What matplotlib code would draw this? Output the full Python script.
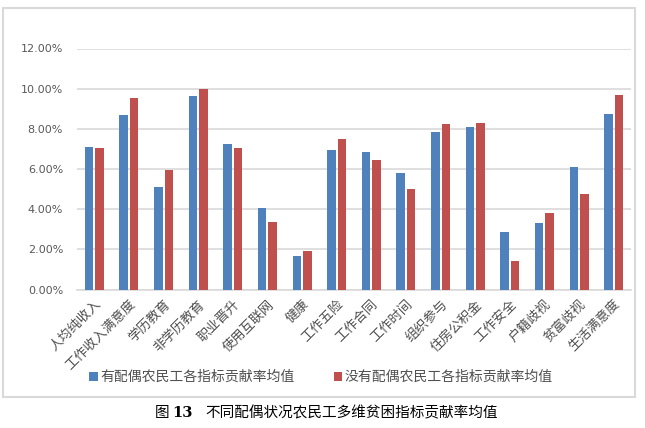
import numpy as np
import matplotlib
matplotlib.use('Agg')
import matplotlib.pyplot as plt
from matplotlib.patches import Rectangle
from matplotlib.ticker import FuncFormatter

plt.rcParams['font.family'] = ['Noto Sans CJK SC', 'DejaVu Sans']

categories = ['人均纯收入', '工作收入满意度', '学历教育', '非学历教育', '职业晋升', '使用互联网',
              '健康', '工作五险', '工作合同', '工作时间', '组织参与', '住房公积金',
              '工作安全', '户籍歧视', '贫富歧视', '生活满意度']
married = [7.10, 8.67, 5.08, 9.64, 7.25, 4.07, 1.67, 6.97, 6.85, 5.82, 7.84, 8.08,
           2.87, 3.32, 6.11, 8.72]
unmarried = [7.05, 9.53, 5.93, 9.98, 7.05, 3.38, 1.93, 7.51, 6.46, 5.02, 8.23, 8.28,
             1.42, 3.82, 4.76, 9.69]
series_names = ['有配偶农民工各指标贡献率均值', '没有配偶农民工各指标贡献率均值']

blue = '#4F81BD'
red = '#C0504D'
grid_col = '#D9D9D9'

fig = plt.figure(figsize=(6.45, 4.28), dpi=100)
ax = fig.add_axes([77 / 645, 1 - 289.5 / 428, 554 / 645, 241 / 428])

x = np.arange(len(categories))
w = 0.245
ax.bar(x - w / 2 - 0.03, np.array(married) / 100, width=w, color=blue, label=series_names[0], zorder=3)
ax.bar(x + w / 2 + 0.03, np.array(unmarried) / 100, width=w, color=red, label=series_names[1], zorder=3)

ax.set_xlim(-0.5, len(categories) - 0.5)
ax.set_ylim(0, 0.12)
ax.set_yticks(np.arange(0, 0.121, 0.02))
ax.yaxis.set_major_formatter(FuncFormatter(lambda v, p: f'{v * 100:.2f}%'))
ax.grid(axis='y', color=grid_col, linewidth=1.2, zorder=0)
for s in ['top', 'right', 'left']:
    ax.spines[s].set_visible(False)
ax.spines['bottom'].set_color(grid_col)
ax.spines['bottom'].set_linewidth(1.2)
ax.tick_params(axis='both', length=0)
ax.tick_params(axis='y', labelsize=8, labelcolor='#595959', pad=10)
for t in ax.get_yticklabels():
    t.set_family('DejaVu Sans')

ax.set_xticks(x)
ax.set_xticklabels(categories, rotation=45, ha='right', rotation_mode='anchor',
                   fontsize=9.5, color='#505050')
ax.tick_params(axis='x', pad=6)

ax.legend(loc='center', bbox_to_anchor=(321 / 645, 1 - 377 / 428), bbox_transform=fig.transFigure,
          ncol=2, frameon=False, fontsize=10, handlelength=0.6, handleheight=0.6,
          handletextpad=0.2, columnspacing=2.8, labelcolor='#505050')

# chart border
fig.patches.append(Rectangle((3 / 645, 1 - 397 / 428), 632 / 645, 389.5 / 428,
                             transform=fig.transFigure, fill=False, edgecolor=grid_col, linewidth=1.5))

# caption
cy = 1 - 413 / 428
fig.text(155 / 645, cy, '图', fontsize=10.5, va='center', ha='left')
fig.text(172 / 645, cy, '13', fontsize=10.5, fontweight='bold', va='center', ha='left',
         family='DejaVu Serif')
fig.text(205 / 645, cy, '不同配偶状况农民工多维贫困指标贡献率均值', fontsize=10.5, va='center', ha='left')

fig.savefig('out.png', dpi=100)
